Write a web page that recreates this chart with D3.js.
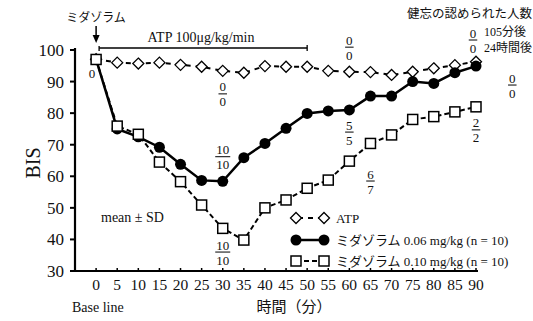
<!DOCTYPE html>
<html>
<head>
<meta charset="utf-8">
<script src="https://cdn.jsdelivr.net/npm/d3@7"></script>
<style>
  body { margin: 0; background: #fff; }
  text { fill: #111; }
</style>
</head>
<body>
<div id="chart"></div>
<script>
// time points (min) and BIS means
var times = [0, 5, 10, 15, 20, 25, 30, 35, 40, 45, 50, 55, 60, 65, 70, 75, 80, 85, 90];
var atp = [97.1, 96.0, 95.7, 96.0, 95.3, 94.7, 93.4, 92.8, 94.9, 94.7, 94.7, 93.4, 93.1, 93.0, 92.1, 93.1, 94.2, 95.2, 96.3];
var mid006 = [97.0, 75.0, 72.5, 69.2, 63.8, 58.7, 58.4, 65.9, 70.4, 75.2, 79.9, 80.7, 81.0, 85.4, 85.4, 90.0, 89.4, 92.8, 94.9];
var mid010 = [97.0, 75.9, 73.3, 64.5, 58.3, 50.9, 43.5, 39.8, 50.0, 52.5, 56.2, 58.8, 64.8, 70.4, 73.1, 78.0, 78.9, 80.4, 82.0];
var yTicks = [30, 40, 50, 60, 70, 80, 90, 100];

// amnesia counts (105 min / 24 h), anchored at time / BIS
var fractions = [
  {num: "0", den: "0", t: 30, v: 86.1},
  {num: "0", den: "0", t: 60, v: 100.9},
  {num: "10", den: "10", t: 30, v: 66.2},
  {num: "5", den: "5", t: 60, v: 74.0},
  {num: "6", den: "7", t: 65, v: 58.5},
  {num: "2", den: "2", t: 90, v: 74.7},
  {num: "10", den: "10", t: 30, v: 36.0},
  {num: "0", den: "0", t: 98.6, v: 88.9}
];

var legendLabels = ["ATP", "ミダゾラム 0.06 mg/kg (n = 10)", "ミダゾラム 0.10 mg/kg (n = 10)"];

var W = 533, H = 321;
var serif = "'Liberation Serif', 'Noto Sans CJK JP', serif";
var jp = "'Noto Sans CJK JP', sans-serif";

var svg = d3.select("#chart").append("svg")
    .attr("width", W).attr("height", H)
    .style("font-family", serif);

var x = d3.scaleLinear().domain([-5, 90]).range([75, 476]);
var y = d3.scaleLinear().domain([30, 100]).range([271, 50]);

// axes
svg.append("line").attr("x1", 75).attr("x2", 75).attr("y1", 48).attr("y2", 272)
    .attr("stroke", "#000").attr("stroke-width", 2.2);
svg.append("line").attr("x1", 74).attr("x2", 478).attr("y1", 271).attr("y2", 271)
    .attr("stroke", "#000").attr("stroke-width", 2.2);

svg.selectAll(".ytick").data(yTicks).enter().append("line")
    .attr("x1", 70).attr("x2", 75)
    .attr("y1", function(d) { return y(d); }).attr("y2", function(d) { return y(d); })
    .attr("stroke", "#000").attr("stroke-width", 2);
svg.selectAll(".ylab").data(yTicks).enter().append("text")
    .attr("x", 64).attr("y", function(d) { return y(d); })
    .attr("dy", "0.35em").attr("text-anchor", "end")
    .style("font-size", "17px").text(function(d) { return d; });

svg.selectAll(".xtick").data(times).enter().append("line")
    .attr("x1", function(d) { return x(d); }).attr("x2", function(d) { return x(d); })
    .attr("y1", 268).attr("y2", 271)
    .attr("stroke", "#000").attr("stroke-width", 1.5);
svg.selectAll(".xlab").data(times).enter().append("text")
    .attr("x", function(d) { return x(d); }).attr("y", 285)
    .attr("dy", "0.35em").attr("text-anchor", "middle")
    .style("font-size", "15.5px").text(function(d) { return d; });

svg.append("text").attr("transform", "translate(33,163) rotate(-90)")
    .attr("text-anchor", "middle").attr("dy", "0.35em")
    .style("font-size", "20px").text("BIS");
svg.append("text").attr("x", 72).attr("y", 307).attr("dy", "0.35em")
    .style("font-size", "14px").text("Base line");
svg.append("text").attr("x", 294).attr("y", 307).attr("dy", "0.35em")
    .attr("text-anchor", "middle").style("font-family", jp)
    .style("font-size", "15px").text("時間（分）");

// midazolam arrow and ATP infusion bar
svg.append("text").attr("x", 96).attr("y", 18).attr("dy", "0.35em")
    .attr("text-anchor", "middle").style("font-family", jp)
    .style("font-size", "12px").text("ミダゾラム");
svg.append("line").attr("x1", x(0)).attr("x2", x(0)).attr("y1", 26).attr("y2", 36)
    .attr("stroke", "#000").attr("stroke-width", 1.5);
svg.append("path").attr("d", "M" + (x(0) - 3.5) + ",35 L" + (x(0) + 3.5) + ",35 L" + x(0) + ",43 Z")
    .attr("fill", "#000");

svg.append("line").attr("x1", x(0) + 3).attr("x2", x(50)).attr("y1", 48).attr("y2", 48)
    .attr("stroke", "#000").attr("stroke-width", 1.3);
svg.append("line").attr("x1", x(0) + 3).attr("x2", x(0) + 3).attr("y1", 46).attr("y2", 51)
    .attr("stroke", "#000").attr("stroke-width", 1.3);
svg.append("line").attr("x1", x(50)).attr("x2", x(50)).attr("y1", 45).attr("y2", 51)
    .attr("stroke", "#000").attr("stroke-width", 1.3);
svg.append("text").attr("x", 201).attr("y", 37).attr("text-anchor", "middle")
    .attr("dy", "0.35em").style("font-size", "14px").text("ATP 100μg/kg/min");

// series
var line = d3.line().x(function(d) { return x(d[0]); }).y(function(d) { return y(d[1]); });
var ptsA = d3.zip(times, atp), ptsB = d3.zip(times, mid006), ptsC = d3.zip(times, mid010);

function diamond(g, cx, cy) {
  g.append("path")
    .attr("d", "M" + cx + "," + (cy - 5.5) + " L" + (cx + 5.5) + "," + cy + " L" + cx + "," + (cy + 5.5) + " L" + (cx - 5.5) + "," + cy + " Z")
    .attr("fill", "#fff").attr("stroke", "#000").attr("stroke-width", 1.3);
}
function square(g, cx, cy) {
  g.append("rect").attr("x", cx - 5).attr("y", cy - 5).attr("width", 10).attr("height", 10)
    .attr("fill", "#fff").attr("stroke", "#000").attr("stroke-width", 1.5);
}
function dot(g, cx, cy) {
  g.append("circle").attr("cx", cx).attr("cy", cy).attr("r", 5.5).attr("fill", "#000");
}

svg.append("path").datum(ptsA).attr("d", line).attr("fill", "none")
    .attr("stroke", "#000").attr("stroke-width", 2).attr("stroke-dasharray", "5,5");
var gA = svg.append("g");
ptsA.forEach(function(p) { diamond(gA, x(p[0]), y(p[1])); });

svg.append("path").datum(ptsB).attr("d", line).attr("fill", "none")
    .attr("stroke", "#000").attr("stroke-width", 2.5);
var gB = svg.append("g");
ptsB.forEach(function(p) { dot(gB, x(p[0]), y(p[1])); });

svg.append("path").datum(ptsC).attr("d", line).attr("fill", "none")
    .attr("stroke", "#000").attr("stroke-width", 2).attr("stroke-dasharray", "5,3");
var gC = svg.append("g");
ptsC.forEach(function(p) { square(gC, x(p[0]), y(p[1])); });

// fraction annotations
function fraction(cx, cy, num, den) {
  var g = svg.append("g").style("font-size", "13px");
  g.append("text").attr("x", cx).attr("y", cy - 7).attr("dy", "0.35em")
    .attr("text-anchor", "middle").text(num);
  g.append("text").attr("x", cx).attr("y", cy + 8).attr("dy", "0.35em")
    .attr("text-anchor", "middle").text(den);
  var w = num.length * 6.5 + 2;
  g.append("line").attr("x1", cx - w / 2).attr("x2", cx + w / 2)
    .attr("y1", cy).attr("y2", cy).attr("stroke", "#000").attr("stroke-width", 1);
}
fractions.forEach(function(f) { fraction(x(f.t), y(f.v), f.num, f.den); });

svg.append("text").attr("x", 92).attr("y", 73).attr("dy", "0.35em")
    .attr("text-anchor", "middle").style("font-size", "13px").text("0");

// key for the amnesia counts
svg.append("text").attr("x", 532).attr("y", 14).attr("dy", "0.35em")
    .attr("text-anchor", "end").style("font-family", jp).style("font-size", "12.5px")
    .text("健忘の認められた人数");
fraction(473, 40, "0", "0");
svg.append("text").attr("x", 484).attr("y", 32).attr("dy", "0.35em")
    .style("font-size", "12px").text("105分後");
svg.append("text").attr("x", 484).attr("y", 48).attr("dy", "0.35em")
    .style("font-size", "12px").text("24時間後");

// legend
svg.append("text").attr("x", 101).attr("y", 217).attr("dy", "0.35em")
    .style("font-size", "14px").text("mean ± SD");

var lg = svg.append("g");
var rows = [218, 240, 261];
legendLabels.forEach(function(lbl, i) {
  var ry = rows[i];
  var l = lg.append("line").attr("x1", 296).attr("x2", 324).attr("y1", ry).attr("y2", ry)
      .attr("stroke", "#000");
  if (i === 0) { l.attr("stroke-width", 2).attr("stroke-dasharray", "5,5").attr("stroke-dashoffset", -2); diamond(lg, 296, ry); diamond(lg, 324, ry); }
  if (i === 1) { l.attr("stroke-width", 2.5); dot(lg, 296, ry); dot(lg, 324, ry); }
  if (i === 2) { l.attr("stroke-width", 2).attr("stroke-dasharray", "5,3"); square(lg, 296, ry); square(lg, 324, ry); }
  lg.append("text").attr("x", 336).attr("y", ry).attr("dy", "0.35em")
    .style("font-size", "13px").text(lbl);
});
</script>
</body>
</html>
